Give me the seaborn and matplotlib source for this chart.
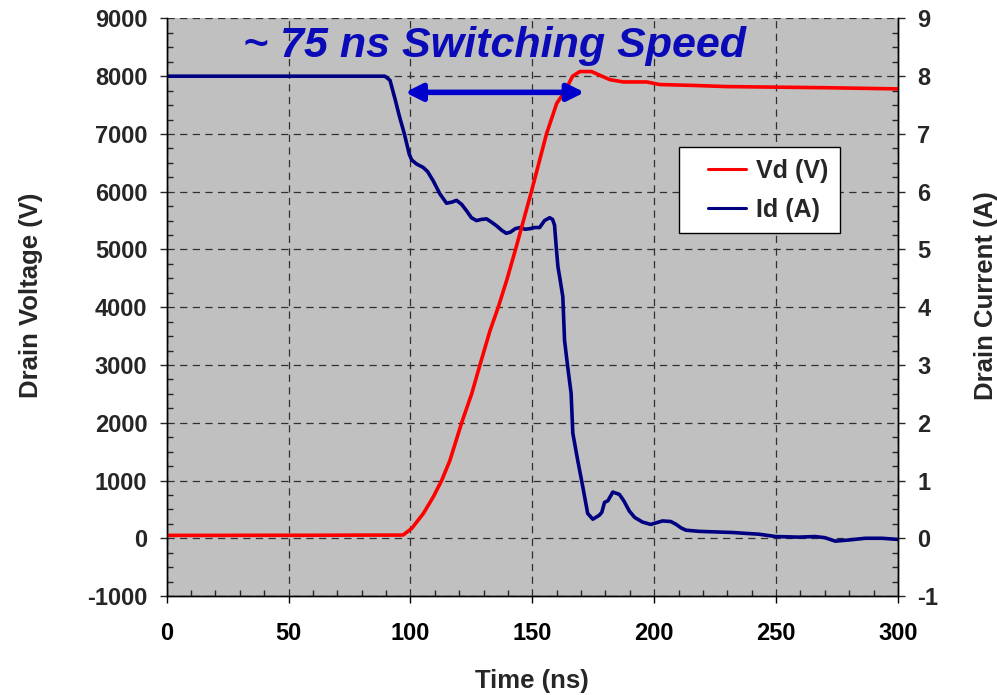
import matplotlib
matplotlib.use("Agg")
import matplotlib.pyplot as plt
from matplotlib.ticker import MultipleLocator
from matplotlib.lines import Line2D
from matplotlib.legend_handler import HandlerLine2D
import seaborn as sns
import pandas as pd

# ---- data ----
t_vd = [0, 20, 40, 60, 80, 95, 97, 100.5, 105.3, 109.4, 112.8, 116.2, 121, 125.1,
        128.5, 132.6, 136, 139.5, 143.1, 149.6, 155.8, 160, 163.4, 166.5, 169.5,
        174.3, 178, 181.8, 187.3, 196.9, 202.3, 216, 229.7, 250.2, 270.7, 300]
vd = [50, 50, 52, 52, 55, 55, 57, 170, 430, 720, 1000, 1350, 2000, 2500,
      3000, 3590, 4000, 4470, 5000, 6000, 7000, 7530, 7740, 8000, 8080,
      8080, 8010, 7940, 7900, 7900, 7855, 7840, 7820, 7810, 7800, 7780]

t_id = [0, 30, 60, 89.5, 91.6, 93.7, 95.5, 97.5, 99.5, 100.5, 102.5, 105.2, 107,
        109.3, 112.1, 114.8, 117, 118.9, 121, 123, 125, 127.1, 129, 131.2, 133,
        135.3, 137.5, 139.3, 141, 143, 145, 147, 149, 151, 153, 155, 157.1, 158.3,
        159.1, 159.8, 160.5, 161.3, 162.5, 163.2, 164.5, 165.9, 166.6, 168.6,
        170.7, 172.7, 174.8, 177.5, 178.5, 179.6, 181, 183, 185.7, 187.5, 189.8,
        192, 195.2, 198.6, 201, 203.4, 206.8, 209, 211, 213, 218.4, 225, 232, 243,
        249.8, 259.3, 266, 270, 274.3, 279.7, 286.6, 293.4, 300]
id_a = [8.0, 8.0, 8.0, 8.0, 7.93, 7.6, 7.3, 7.0, 6.65, 6.55, 6.48, 6.42, 6.35,
        6.19, 5.96, 5.80, 5.82, 5.85, 5.78, 5.67, 5.55, 5.50, 5.52, 5.53, 5.48,
        5.41, 5.33, 5.28, 5.30, 5.36, 5.38, 5.35, 5.36, 5.38, 5.38, 5.50, 5.55, 5.52,
        5.42, 5.04, 4.70, 4.50, 4.18, 3.43, 2.97, 2.51, 1.82, 1.35,
        0.89, 0.43, 0.33, 0.40, 0.45, 0.62, 0.65, 0.80, 0.76, 0.65, 0.47,
        0.36, 0.28, 0.24, 0.27, 0.30, 0.29, 0.24, 0.18, 0.14, 0.12, 0.11, 0.10, 0.07,
        0.03, 0.02, 0.03, 0.01, -0.05, -0.03, 0.0, 0.0, -0.02]

x_ticks = [0, 50, 100, 150, 200, 250, 300]
vd_ticks = [-1000, 0, 1000, 2000, 3000, 4000, 5000, 6000, 7000, 8000, 9000]
id_ticks = [-1, 0, 1, 2, 3, 4, 5, 6, 7, 8, 9]

title_text = "~ 75 ns Switching Speed"
arrow_start = (97.8, 7720)
arrow_end = (171.4, 7720)

df_vd = pd.DataFrame({"Time (ns)": t_vd, "Vd": vd})
df_id = pd.DataFrame({"Time (ns)": t_id, "Id": id_a})

# ---- style ----
sns.set_style("white")
plt.rcParams["font.family"] = ["Liberation Sans", "DejaVu Sans"]
plt.rcParams["font.weight"] = "bold"
plt.rcParams["axes.unicode_minus"] = False
FS = 17
LFS = 18.5

fig = plt.figure(figsize=(9.97, 6.95), dpi=100)
ax = fig.add_axes([0.1672, 0.1424, 0.7335, 0.8311])   # Id (right axis), background + grid
ax2 = ax.twinx()                                      # Vd (left axis), on top
ax.yaxis.tick_right()
ax.yaxis.set_label_position("right")
ax2.yaxis.tick_left()
ax2.yaxis.set_label_position("left")

ax.set_facecolor("#C0C0C0")

sns.lineplot(data=df_id, x="Time (ns)", y="Id", ax=ax, color="#000080",
             linewidth=2.6, label="Id (A)", legend=False)
sns.lineplot(data=df_vd, x="Time (ns)", y="Vd", ax=ax2, color="#FF0000",
             linewidth=2.6, label="Vd (V)", legend=False)
for a in (ax, ax2):
    if a.get_legend() is not None:
        a.get_legend().remove()

ax.set_xlim(0, 300)
ax.set_ylim(-1, 9)
ax2.set_ylim(-1000, 9000)

ax.set_xticks(x_ticks)
ax.set_yticks(id_ticks)
ax2.set_yticks(vd_ticks)
ax.xaxis.set_minor_locator(MultipleLocator(10))
ax.yaxis.set_minor_locator(MultipleLocator(0.25))
ax2.yaxis.set_minor_locator(MultipleLocator(250))

ax.grid(True, which="major", color="#303030", linestyle=(0, (5.8, 4.3)), linewidth=0.9)
ax.set_axisbelow(True)

for a in (ax, ax2):
    a.spines["top"].set_visible(False)
    for s in ("left", "right", "bottom"):
        a.spines[s].set_visible(True)
        a.spines[s].set_color("black")
        a.spines[s].set_linewidth(1.0)

ax.tick_params(axis="x", which="major", direction="out", length=5, width=1,
               labelsize=FS, pad=14, colors="black", bottom=True)
ax.tick_params(axis="x", which="minor", direction="in", length=4, width=1, bottom=True)
ax.tick_params(axis="y", which="major", direction="out", length=5, width=1,
               labelsize=FS, pad=9, right=True, left=False)
ax.tick_params(axis="y", which="minor", direction="in", length=4, width=1,
               right=True, left=False)
ax2.tick_params(axis="y", which="major", direction="out", length=5, width=1,
                labelsize=FS, pad=9, left=True, right=False)
ax2.tick_params(axis="y", which="minor", direction="in", length=4, width=1,
                left=True, right=False)
for lab in ax.get_xticklabels() + ax.get_yticklabels() + ax2.get_yticklabels():
    lab.set_fontweight("bold")

ax.set_xlabel("Time (ns)", fontsize=LFS, fontweight="bold")
ax.set_ylabel("Drain Current (A)", fontsize=LFS, fontweight="bold")
ax2.set_ylabel("Drain Voltage (V)", fontsize=LFS, fontweight="bold")
ax.xaxis.set_label_coords(0.4995, -0.1466)
ax.yaxis.set_label_coords(1.1203, 0.52)
ax2.yaxis.set_label_coords(-0.1856, 0.52)
ax.yaxis.label.set_verticalalignment("center")
ax2.yaxis.label.set_verticalalignment("center")
ax.xaxis.label.set_verticalalignment("center")
ax.yaxis.label.set_rotation(90)

# title text and arrow
ax2.text(0.4476, 0.952, title_text, transform=ax2.transAxes, ha="center", va="center",
         fontsize=31, fontweight="bold", fontstyle="italic", color="#0A0AB8")
ax2.annotate("", xy=arrow_end, xytext=arrow_start,
             arrowprops=dict(arrowstyle="<|-|>,head_length=1.0,head_width=0.5",
                             color="#0000CC", lw=4, shrinkA=0, shrinkB=0,
                             mutation_scale=10))

# legend
h_vd = ax2.get_lines()[0]
h_id = ax.get_lines()[0]
leg = ax2.legend([h_vd, h_id], ["Vd (V)", "Id (A)"], loc="upper left",
                 bbox_to_anchor=(0.7005, 0.7766), borderaxespad=0, fontsize=18,
                 frameon=True, fancybox=False, framealpha=1, edgecolor="black",
                 borderpad=0.45, labelspacing=0.6, handlelength=2.25,
                 handletextpad=0.4,
                 handler_map={Line2D: HandlerLine2D(xpad=0.7)})
leg.get_frame().set_linewidth(1.0)
for txt in leg.get_texts():
    txt.set_fontweight("bold")
for ln in leg.get_lines():
    ln.set_linewidth(2.2)

fig.savefig("out.png", dpi=100)
